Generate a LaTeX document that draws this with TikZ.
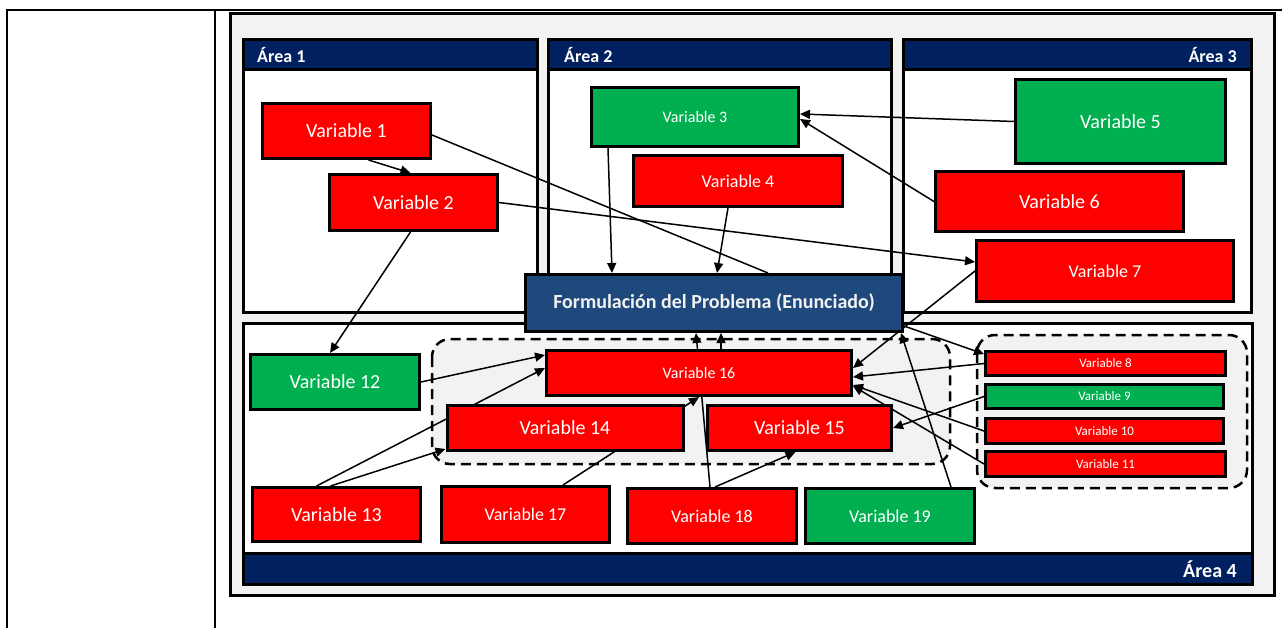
\documentclass[tikz,border=0pt]{standalone}
\usepackage{fontspec}
\setmainfont{Carlito}
\usepackage{xcolor}
\usetikzlibrary{arrows.meta}
\definecolor{varred}{HTML}{FF0000}
\definecolor{vargreen}{HTML}{00B050}
\definecolor{headnavy}{HTML}{002060}
\definecolor{formblue}{HTML}{1F497D}
\definecolor{panelgray}{HTML}{F2F2F2}
\pgfdeclarelayer{back}
\pgfdeclarelayer{links}
\pgfsetlayers{back,links,main}
\tikzset{
  var/.style={draw=black, line width=3pt, text=white, inner sep=0pt},
  redvar/.style={var, fill=varred},
  greenvar/.style={var, fill=vargreen},
  vbig/.style={font=\fontsize{20}{24}\selectfont},
  vmid/.style={font=\fontsize{18}{22}\selectfont},
  vsmall/.style={font=\fontsize{16}{19}\selectfont},
  vtiny/.style={font=\fontsize{13}{16}\selectfont},
  area/.style={draw=black, line width=3pt, fill=white},
  header/.style={draw=black, line width=3pt, fill=headnavy},
  areaname/.style={text=white, font=\bfseries\fontsize{18}{22}\selectfont, inner sep=0pt},
  group/.style={draw=black, line width=2.5pt, dash pattern=on 10pt off 6pt, rounded corners=18pt, fill=panelgray},
  link/.style={line width=1.5pt, -{Triangle[length=10pt,width=9pt]}}
}

\begin{document}
\begin{tikzpicture}[x=1pt,y=-1pt]
\useasboundingbox (0,0) rectangle (1282,628);

\begin{pgfonlayer}{back}
	%tabella
	\draw[line width=2pt] (7,628) -- (7,10) -- (1282,10);
	\draw[line width=2pt] (215,10) -- (215,628);
	\draw[line width=3pt, fill=panelgray] (230,14) rectangle (1274,595);
	
	%aree
	\draw[area] (243,40) rectangle (537,312);
	\draw[header] (243,40) rectangle (537,70);
	\draw[area] (548,40) rectangle (891,312);
	\draw[header] (548,40) rectangle (891,70);
	\draw[area] (903,40) rectangle (1251,312);
	\draw[header] (903,40) rectangle (1251,70);
	\draw[area] (243,323) rectangle (1252,584);
	\draw[header] (243,553) rectangle (1252,584);
	
	%gruppi
	\draw[group] (432,339) rectangle (950,464);
	\draw[group] (977,335) rectangle (1247,488);
\end{pgfonlayer}

%nomi aree
\node[areaname, anchor=west] (a1) at (257,55) {Área 1};
\node[areaname, anchor=west] (a2) at (564,55) {Área 2};
\node[areaname, anchor=east] (a3) at (1237,55) {Área 3};
\node[areaname, anchor=east, font=\bfseries\fontsize{20}{24}\selectfont] (a4) at (1237,569) {Área 4};

%variabili
\node[redvar, vbig, minimum width=168pt, minimum height=55pt] (v1) at (346.5,131) {Variable 1};
\node[redvar, vbig, minimum width=168pt, minimum height=56pt] (v2) at (413.5,202.5) {Variable 2};
\node[greenvar, vsmall, minimum width=207pt, minimum height=59pt] (v3) at (695,117) {Variable 3};
\node[redvar, vmid, minimum width=209pt, minimum height=51pt] (v4) at (738,181) {Variable 4};
\node[greenvar, vbig, minimum width=210pt, minimum height=84pt] (v5) at (1120.5,121.5) {Variable 5};
\node[redvar, vbig, minimum width=248pt, minimum height=60pt] (v6) at (1059.5,201.5) {Variable 6};
\node[redvar, vmid, minimum width=257pt, minimum height=61pt] (v7) at (1105,271) {Variable 7};
\node[redvar, vtiny, minimum width=240pt, minimum height=24pt] (v8) at (1105.5,363.5) {Variable 8};
\node[greenvar, vtiny, minimum width=238pt, minimum height=24pt] (v9) at (1104.5,396.5) {Variable 9};
\node[redvar, vtiny, minimum width=238pt, minimum height=25pt] (v10) at (1104.5,431) {Variable 10};
\node[redvar, vtiny, minimum width=240pt, minimum height=25pt] (v11) at (1105.5,464) {Variable 11};
\node[greenvar, vbig, minimum width=169pt, minimum height=55pt] (v12) at (335,382) {Variable 12};
\node[redvar, vbig, minimum width=168pt, minimum height=54pt] (v13) at (336.5,514.5) {Variable 13};
\node[redvar, vbig, minimum width=236pt, minimum height=45pt] (v14) at (565,428) {Variable 14};
\node[redvar, vbig, minimum width=184pt, minimum height=45pt] (v15) at (799.5,428) {Variable 15};
\node[redvar, vsmall, minimum width=305pt, minimum height=45pt] (v16) at (699,373) {Variable 16};
\node[redvar, vmid, minimum width=168pt, minimum height=56pt] (v17) at (525.5,514.5) {Variable 17};
\node[redvar, vmid, minimum width=169pt, minimum height=55pt] (v18) at (712,516) {Variable 18};
\node[greenvar, vmid, minimum width=169pt, minimum height=55pt] (v19) at (890,516) {Variable 19};
\node[var, fill=formblue, text=panelgray, font=\bfseries\fontsize{20}{24}\selectfont, minimum width=377pt, minimum height=57pt] (form) at (714,303) {Formulación del Problema (Enunciado)};

%frecce
\begin{pgfonlayer}{links}
	\draw[link] ([xshift=22pt]v1.south) -- ([xshift=-3pt]v2.north);
	\draw[line width=1.5pt] ([yshift=-4pt]v1.east) -- ([xshift=54pt]form.north);
	\draw[link] (v2.east) -- ([yshift=9pt]v7.west);
	\draw[link] ([xshift=-3pt]v2.south) -- ([xshift=-5pt]v12.north);
	\draw[link] ([xshift=-87pt]v3.south) -- ([xshift=-102pt]form.north);
	\draw[link] ([xshift=-10pt]v4.south) -- ([xshift=3pt]form.north);
	\draw[link] (v5.west) -- ([yshift=3pt]v3.east);
	\draw[link] (v6.west) -- ([yshift=-2pt]v3.east);
	\draw[link] (v7.west) -- ([yshift=5pt]v16.east);
	\draw[link] ([yshift=7pt]form.south east) -- ([yshift=-4pt]v8.north west);
	\draw[link] ([xshift=-2pt]v18.north) -- ([xshift=-18pt]form.south);
	\draw[link] ([xshift=22pt]v16.north) -- ([xshift=7pt]form.south);
	\draw[link] ([xshift=37.5pt]v17.north) -- (v16.south);
	\draw[link] ([xshift=-20pt]v13.north) -- ([yshift=5pt]v16.west);
	\draw[link] ([xshift=-6pt]v13.north) -- ([yshift=3pt]v14.south west);
	\draw[link] (v12.east) -- ([yshift=-6pt]v16.north west);
	\draw[link] ([xshift=3pt]v18.north) -- ([xshift=-4pt]v15.south);
	\draw[link] ([xshift=-25pt]v19.north east) -- ([xshift=-3pt]form.south east);
	\draw[link] (v8.west) -- ([yshift=-4pt]v16.east);
	\draw[link] (v9.west) -- (v15.east);
	\draw[link] (v10.west) -- ([yshift=-12pt]v16.east);
	\draw[link] (v11.west) -- ([yshift=-13pt]v16.east);
\end{pgfonlayer}

\end{tikzpicture}
\end{document}
